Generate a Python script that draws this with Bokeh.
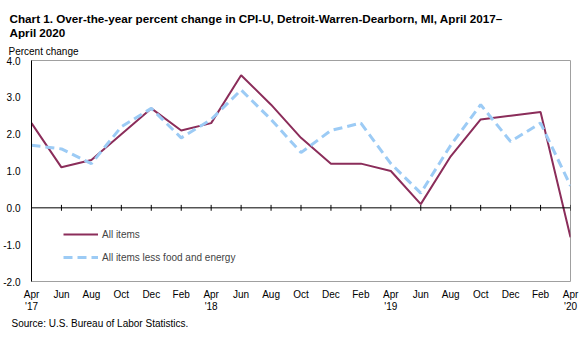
from bokeh.plotting import figure
from bokeh.models import Range1d, LinearAxis, FixedTicker, Title, Legend, LegendItem, Span, NumeralTickFormatter
from bokeh.embed import file_html
from bokeh.resources import INLINE

months = ["Apr\n'17", "Jun", "Aug", "Oct", "Dec", "Feb", "Apr\n'18", "Jun", "Aug", "Oct", "Dec", "Feb",
          "Apr\n'19", "Jun", "Aug", "Oct", "Dec", "Feb", "Apr\n'20"]
all_items = [2.3, 1.1, 1.3, 2.0, 2.7, 2.1, 2.3, 3.6, 2.8, 1.9, 1.2, 1.2, 1.0, 0.1, 1.4, 2.4, 2.5, 2.6, -0.8]
core = [1.7, 1.6, 1.2, 2.2, 2.7, 1.9, 2.4, 3.2, 2.4, 1.5, 2.1, 2.3, 1.2, 0.4, 1.7, 2.8, 1.8, 2.3, 0.6]
y_ticks = [-2, -1, 0, 1, 2, 3, 4]

xs = list(range(len(months)))
FONT = "Liberation Sans"

p = figure(width=587, height=337, output_backend="svg", toolbar_location=None,
           x_range=Range1d(0, len(months) - 1), y_range=Range1d(-2, 4),
           min_border_left=30, min_border_right=17, min_border_top=60, min_border_bottom=56,
           x_axis_type=None, y_axis_type=None)
p.outline_line_color = "#A0A0A0"
p.background_fill_color = "white"
p.border_fill_color = "white"

yax = LinearAxis(ticker=FixedTicker(ticks=y_ticks), formatter=NumeralTickFormatter(format="0.0"))
yax.axis_line_color = "black"
yax.major_tick_line_color = None
yax.minor_tick_line_color = None
yax.major_label_text_font = FONT
yax.major_label_text_font_size = "10px"
yax.major_label_text_color = "black"
yax.major_label_standoff = 5
p.add_layout(yax, "left")

xax = LinearAxis(ticker=FixedTicker(ticks=xs))
xax.major_label_overrides = {i: m for i, m in enumerate(months)}
xax.axis_line_color = None
xax.major_tick_line_color = None
xax.minor_tick_line_color = None
xax.major_label_text_font = FONT
xax.major_label_text_font_size = "10px"
xax.major_label_text_color = "black"
xax.major_label_text_line_height = 1.1
xax.major_label_standoff = 1
p.add_layout(xax, "below")

p.ygrid.ticker = FixedTicker(ticks=y_ticks)
p.ygrid.grid_line_color = "#A0A0A0"
p.xgrid.grid_line_color = None

p.add_layout(Span(location=0, dimension="width", line_color="black", line_width=1))
p.segment(x0=xs, x1=xs, y0=[-0.08] * len(xs), y1=[0.08] * len(xs), line_color="black", line_width=1)

r1 = p.line(xs, all_items, line_color="#8B2D5A", line_width=2)
r2 = p.line(xs, core, line_color="#9CCBF5", line_width=3, line_dash="9 5")

legend = Legend(items=[LegendItem(label="All items", renderers=[r1]),
                       LegendItem(label="All items less food and energy", renderers=[r2])],
                location=(32, 14), orientation="vertical")
legend.background_fill_alpha = 0
legend.border_line_color = None
legend.label_text_font = FONT
legend.label_text_font_size = "10px"
legend.glyph_width = 35
legend.glyph_height = 20
legend.label_height = 20
legend.spacing = 3
legend.padding = 0
legend.margin = 0
legend.label_standoff = 4
p.add_layout(legend, "center")

def title(text, place, size, standoff, offset, bold=False):
    p.add_layout(Title(text=text, align="left", offset=offset, standoff=standoff,
                       text_font=FONT, text_font_size=size,
                       text_font_style="bold" if bold else "normal",
                       text_color="black"), place)

# above: first added sits nearest the frame
title("Percent change", "above", "10px", 8, -23)
title("April 2020", "above", "11.7px", 2, -22, True)
title("Chart 1. Over-the-year percent change in CPI-U, Detroit-Warren-Dearborn, MI, April 2017\u2013",
      "above", "11.7px", -5, -22, True)
title("Source: U.S. Bureau of Labor Statistics.", "below", "10px", 3, -20)

open("out.html", "w").write(file_html(p, INLINE))
